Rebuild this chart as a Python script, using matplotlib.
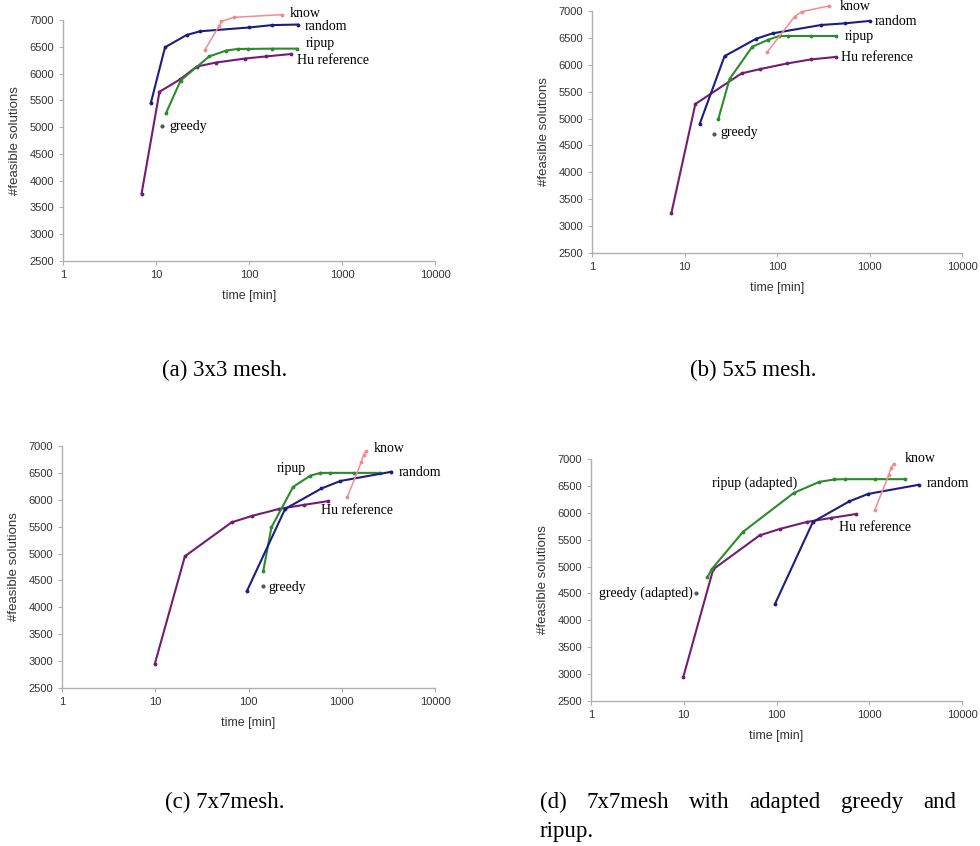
import matplotlib
matplotlib.use("Agg")
import matplotlib.pyplot as plt
from matplotlib.ticker import NullLocator

plt.rcParams['font.family'] = ['Liberation Sans', 'DejaVu Sans']

# ---------------------------------------------------------------- data ---- #
# (a) 3x3 mesh
random_a_t = [8.8, 12.5, 21.3, 30, 100, 178, 335]
random_a_n = [5450, 6490, 6720, 6790, 6860, 6905, 6915]
know_a_t = [33.5, 47.7, 50.5, 69, 227]
know_a_n = [6440, 6890, 6975, 7050, 7100]
ripup_a_t = [12.8, 18.4, 37.3, 57, 76, 98, 178, 330]
ripup_a_n = [5260, 5870, 6320, 6430, 6460, 6460, 6465, 6465]
hu_a_t = [7.0, 10.9, 18.1, 27.3, 44, 90, 153, 284]
hu_a_n = [3760, 5660, 5890, 6130, 6205, 6280, 6320, 6365]
greedy_a = (11.6, 5025)

# (b) 5x5 mesh
random_b_t = [14.6, 27.1, 59.6, 90, 300, 537, 1000]
random_b_n = [4900, 6160, 6485, 6585, 6740, 6770, 6815]
know_b_t = [78, 155, 187, 369]
know_b_n = [6230, 6895, 6990, 7095]
ripup_b_t = [23.2, 30.7, 54, 80, 106, 132, 234, 436]
ripup_b_n = [4990, 5735, 6335, 6465, 6535, 6535, 6535, 6535]
hu_b_t = [7.2, 13.1, 41.4, 65.8, 129, 234, 429]
hu_b_n = [3235, 5270, 5840, 5920, 6025, 6100, 6145]
greedy_b = (21.1, 4710)

# (c)/(d) 7x7 mesh
random_c_t = [96, 247, 606, 968, 3400]
random_c_n = [4300, 5830, 6210, 6350, 6520]
know_c_t = [1150, 1620, 1720, 1840]
know_c_n = [6055, 6700, 6840, 6915]
ripup_c_t = [144, 176, 301, 462, 591, 744, 1348, 2554]
ripup_c_n = [4675, 5485, 6240, 6450, 6500, 6500, 6500, 6500]
hu_c_t = [9.9, 20.8, 65.8, 109, 213, 391, 711]
hu_c_n = [2950, 4950, 5580, 5700, 5830, 5905, 5975]
greedy_c = (143, 4390)
ripup_d_t = [18.0, 20.0, 43.5, 154, 290, 421, 552, 1161, 2438]
ripup_d_n = [4800, 4950, 5645, 6370, 6575, 6620, 6625, 6625, 6625]
greedy_d = (13.4, 4510)

x_ticks = [1, 10, 100, 1000, 10000]
y_ticks = [2500, 3000, 3500, 4000, 4500, 5000, 5500, 6000, 6500, 7000]

C_RANDOM = '#1d1d80'
C_KNOW = '#f28c8c'
C_RIPUP = '#2a8c2a'
C_HU = '#721c72'
C_GREEDY = '#555555'
SERIF = 'Liberation Serif'

# -------------------------------------------------------------- figure ---- #
W, H = 980, 846
fig = plt.figure(figsize=(W / 100, H / 100), dpi=100)


def make_axes(left, top, right, bottom):
    return fig.add_axes([left / W, 1 - bottom / H, (right - left) / W, (bottom - top) / H])


def style(ax):
    ax.set_xscale('log')
    ax.set_xlim(1, 10000)
    ax.set_ylim(2500, 7000)
    ax.set_xticks(x_ticks)
    ax.set_xticklabels([str(t) for t in x_ticks])
    ax.xaxis.set_minor_locator(NullLocator())
    ax.set_yticks(y_ticks)
    for s in ['top', 'right']:
        ax.spines[s].set_visible(False)
    for s in ['left', 'bottom']:
        ax.spines[s].set_color('#b0b0b0')
        ax.spines[s].set_linewidth(1.0)
    ax.tick_params(direction='out', length=3, width=0.8, color='#b0b0b0',
                   labelsize=8, labelcolor='#333333', pad=3.5)
    ax.set_xlabel('time [min]', fontsize=9, color='#333333', labelpad=7)
    ax.set_ylabel('#feasible solutions', fontsize=9.5, color='#333333', labelpad=6)
    ax.patch.set_alpha(0)


def series(ax, t, n, color, lw=1.5):
    ax.plot(t, n, color=color, lw=lw, marker='.', ms=3.5, clip_on=False)


def label(ax, x, y, s, ha='left'):
    ax.text(x, y, s, fontsize=10, family=SERIF, ha=ha, va='center', clip_on=False)


def greedy(ax, pt):
    ax.plot([pt[0]], [pt[1]], 'o', color=C_GREEDY, ms=2, clip_on=False)


# (a)
ax = make_axes(63, 20, 435, 261)
style(ax)
series(ax, hu_a_t, hu_a_n, C_HU)
series(ax, ripup_a_t, ripup_a_n, C_RIPUP)
series(ax, random_a_t, random_a_n, C_RANDOM)
series(ax, know_a_t, know_a_n, C_KNOW, lw=1.1)
greedy(ax, greedy_a)
label(ax, 277, 7125, 'know')
label(ax, 395, 6880, 'random')
label(ax, 411, 6553, 'ripup')
label(ax, 327, 6242, 'Hu reference')
label(ax, 13.9, 5012, 'greedy')

# (b)
ax = make_axes(592, 11, 962, 253)
style(ax)
series(ax, hu_b_t, hu_b_n, C_HU)
series(ax, ripup_b_t, ripup_b_n, C_RIPUP)
series(ax, random_b_t, random_b_n, C_RANDOM)
series(ax, know_b_t, know_b_n, C_KNOW, lw=1.1)
greedy(ax, greedy_b)
label(ax, 474, 7081, 'know')
label(ax, 1132, 6814, 'random')
label(ax, 537, 6534, 'ripup')
label(ax, 494, 6137, 'Hu reference')
label(ax, 24.5, 4741, 'greedy')

# (c)
ax = make_axes(62, 446, 435, 688)
style(ax)
series(ax, hu_c_t, hu_c_n, C_HU)
series(ax, ripup_c_t, ripup_c_n, C_RIPUP)
series(ax, random_c_t, random_c_n, C_RANDOM)
series(ax, know_c_t, know_c_n, C_KNOW, lw=1.1)
greedy(ax, greedy_c)
label(ax, 200, 6577, 'ripup')
label(ax, 2203, 6945, 'know')
label(ax, 4113, 6503, 'random')
label(ax, 606, 5798, 'Hu reference')
label(ax, 162, 4368, 'greedy')

# (d)
ax = make_axes(591, 459, 962, 701)
style(ax)
series(ax, hu_c_t, hu_c_n, C_HU)
series(ax, ripup_d_t, ripup_d_n, C_RIPUP)
series(ax, random_c_t, random_c_n, C_RANDOM)
series(ax, know_c_t, know_c_n, C_KNOW, lw=1.1)
greedy(ax, greedy_d)
label(ax, 20.3, 6546, 'ripup (adapted)')
label(ax, 2438, 7000, 'know')
label(ax, 4169, 6546, 'random')
label(ax, 476, 5725, 'Hu reference')
label(ax, 12.4, 4512, 'greedy (adapted)', ha='right')

# ------------------------------------------------------------ captions ---- #
def caption(x, y, s, ha='center'):
    return fig.text(x / W, 1 - y / H, s, fontsize=16.5, family=SERIF, ha=ha, va='center')


caption(225, 370, '(a) 3x3 mesh.')
caption(753, 370, '(b) 5x5 mesh.')
caption(225, 802, '(c) 7x7mesh.')

# justified first line of (d)
words = '(d) 7x7mesh with adapted greedy and'.split()
x0, x1 = 540, 956
items = [caption(x0, 802, w, ha='left') for w in words]
fig.canvas.draw()
r = fig.canvas.get_renderer()
widths = [it.get_window_extent(r).width for it in items]
gap = (x1 - x0 - sum(widths)) / (len(words) - 1)
x = x0
for it, w in zip(items, widths):
    it.set_x(x / W)
    x += w + gap
caption(x0, 831, 'ripup.', ha='left')

fig.savefig('out.png', dpi=100)
